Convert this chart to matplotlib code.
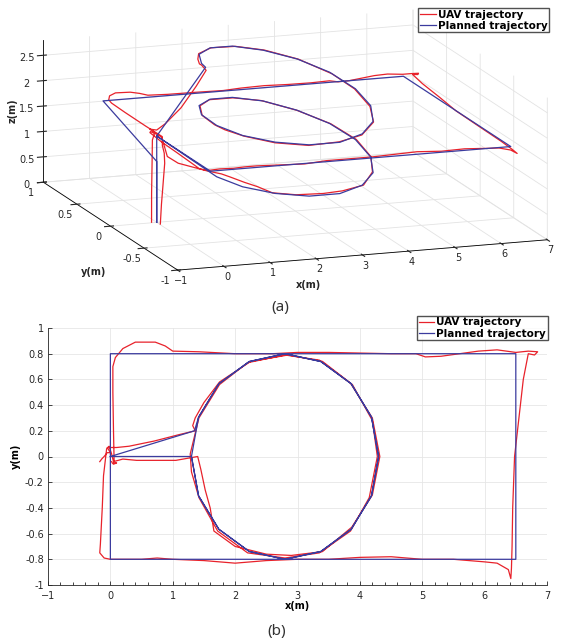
import numpy as np
import matplotlib.pyplot as plt

# ---- planned trajectory (waypoints, x/y/z in m) ----
plan_x = [0, 0, 0, 6.5, 6.5, 0, 0,
          1.300, 1.414, 1.739, 2.226, 2.800, 3.374, 3.861, 4.186,
          4.300, 4.186, 3.861, 3.374, 2.800, 2.226, 1.739, 1.414,
          1.300, 1.414, 1.739, 2.226, 2.800, 3.374, 3.861, 4.186,
          4.300, 4.186, 3.861, 3.374, 2.800, 2.226, 1.739, 1.414,
          1.348, 0, 0]
plan_y = [0, 0, 0.8, 0.8, -0.8, -0.8, 0,
          0.000, -0.306, -0.566, -0.739, -0.800, -0.739, -0.566, -0.306,
          0.000, 0.306, 0.566, 0.739, 0.800, 0.739, 0.566, 0.306,
          0.000, -0.306, -0.566, -0.739, -0.800, -0.739, -0.566, -0.306,
          0.000, 0.306, 0.566, 0.739, 0.800, 0.739, 0.566, 0.306,
          0.200, 0, 0]
plan_z = [0, 1.2, 1.7, 1.7, 1.7, 1.7, 1.7,
          0.80, 0.86, 0.93, 0.99, 1.05, 1.12, 1.18, 1.24,
          1.31, 1.37, 1.43, 1.50, 1.56, 1.62, 1.68, 1.75,
          1.81, 1.87, 1.94, 2.00, 2.06, 2.13, 2.19, 2.25,
          2.31, 2.38, 2.44, 2.50, 2.57, 2.63, 2.69, 2.76,
          2.78, 1.7, 0]

# ---- measured UAV trajectory, by flight phase (x, y, z) ----
takeoff = [(0.02, -0.04, 0.0), (0.03, -0.05, 0.4), (0.05, -0.06, 0.8),
           (0.10, -0.05, 1.2), (0.09, -0.05, 1.4), (0.05, -0.05, 1.55),
           (0.06, -0.04, 1.72)]
rectangle = [(0.05, 0.2, 1.72), (0.04, 0.5, 1.73), (0.04, 0.70, 1.74),
             (0.08, 0.77, 1.74), (0.2, 0.84, 1.75), (0.4, 0.89, 1.75),
             (0.72, 0.89, 1.74), (0.88, 0.86, 1.73), (1.0, 0.82, 1.72),
             (1.42, 0.815, 1.71), (2.0, 0.80, 1.72), (2.6, 0.80, 1.71),
             (3.0, 0.81, 1.72), (3.5, 0.81, 1.73), (4.0, 0.805, 1.72),
             (4.5, 0.80, 1.72), (4.9, 0.80, 1.73), (5.05, 0.775, 1.72),
             (5.3, 0.78, 1.72), (5.6, 0.80, 1.73), (5.9, 0.82, 1.74),
             (6.2, 0.83, 1.74), (6.5, 0.81, 1.73), (6.7, 0.82, 1.72),
             (6.85, 0.815, 1.72), (6.8, 0.79, 1.72), (6.7, 0.80, 1.72),
             (6.62, 0.6, 1.72), (6.55, 0.3, 1.72), (6.48, 0.0, 1.71),
             (6.45, -0.4, 1.72), (6.44, -0.7, 1.72), (6.43, -0.87, 1.71),
             (6.42, -0.95, 1.70), (6.38, -0.88, 1.71), (6.2, -0.83, 1.72),
             (6.0, -0.82, 1.72), (5.5, -0.80, 1.73), (5.0, -0.80, 1.72),
             (4.5, -0.78, 1.73), (4.0, -0.785, 1.72), (3.5, -0.80, 1.72),
             (3.0, -0.80, 1.72), (2.5, -0.81, 1.73), (2.0, -0.83, 1.72),
             (1.5, -0.81, 1.72), (1.0, -0.80, 1.73), (0.75, -0.79, 1.72),
             (0.5, -0.80, 1.72), (0.2, -0.80, 1.73), (0.0, -0.80, 1.72),
             (-0.1, -0.79, 1.72), (-0.17, -0.75, 1.72), (-0.16, -0.68, 1.72),
             (-0.13, -0.4, 1.72), (-0.11, -0.15, 1.72), (-0.06, 0.06, 1.72),
             (-0.02, 0.08, 1.72), (0.02, 0.02, 1.72), (0.05, -0.04, 1.71)]
entry = [(0.2, -0.02, 1.3), (0.42, -0.03, 1.16), (1.05, -0.03, 0.96),
         (1.4, 0.0, 0.85)]
spiral = [(1.45, -0.1, 0.87), (1.52, -0.26, 0.90), (1.6, -0.4, 0.93),
          (1.66, -0.58, 0.96), (2.0, -0.70, 1.0), (2.5, -0.76, 1.04),
          (2.9, -0.77, 1.07), (3.4, -0.74, 1.12), (3.87, -0.55, 1.18),
          (4.2, -0.3, 1.24), (4.32, 0.0, 1.31), (4.2, 0.3, 1.37),
          (3.85, 0.57, 1.43), (3.35, 0.75, 1.50), (2.8, 0.79, 1.56),
          (2.2, 0.73, 1.62), (1.75, 0.56, 1.68), (1.42, 0.3, 1.74),
          (1.28, 0.02, 1.81), (1.30, -0.12, 1.83), (1.42, -0.32, 1.87),
          (1.72, -0.58, 1.94), (2.2, -0.75, 2.0), (2.8, -0.79, 2.06),
          (3.35, -0.75, 2.12), (3.85, -0.58, 2.19), (4.15, -0.32, 2.25),
          (4.28, 0.0, 2.31), (4.2, 0.28, 2.37), (3.88, 0.56, 2.44),
          (3.4, 0.74, 2.5), (2.85, 0.79, 2.57), (2.25, 0.74, 2.63),
          (1.75, 0.58, 2.69), (1.5, 0.42, 2.74), (1.36, 0.3, 2.76),
          (1.32, 0.24, 2.79)]
back = [(1.36, 0.2, 2.72), (1.1, 0.17, 2.45), (0.7, 0.12, 2.1),
        (0.3, 0.08, 1.85), (0.1, 0.07, 1.75), (-0.05, 0.07, 1.78)]
landing = [(0.0, 0.03, 1.74), (-0.05, 0.03, 1.6), (-0.1, 0.0, 1.2),
           (-0.14, -0.02, 0.6), (-0.17, -0.04, 0.05)]

uav = np.array(takeoff + rectangle + entry + spiral + back + landing)
ux, uy, uz = uav[:, 0], uav[:, 1], uav[:, 2]

RED = '#e8222b'
BLUE = '#3b3b9e'
AXC = '#262626'

plt.rcParams['font.family'] = 'DejaVu Sans'
plt.rcParams['font.size'] = 7

fig = plt.figure(figsize=(5.61, 6.44), dpi=100)

# ---------- (a) 3D view ----------
ax3 = fig.add_axes([-0.0013, 0.526, 1.04, 0.5], projection='3d', proj_type='ortho')
ax3.patch.set_alpha(0)
ax3.plot(ux, uy, uz, color=RED, lw=0.9, label='UAV trajectory', clip_on=False)
ax3.plot(plan_x, plan_y, plan_z, color=BLUE, lw=0.9,
         label='Planned trajectory', clip_on=False)
ax3.set_xlim(-1, 7)
ax3.set_ylim(-1, 1)
ax3.set_zlim(0, 2.8)
ax3.set_xticks(range(-1, 8))
ax3.set_yticks([-1, -0.5, 0, 0.5, 1])
ax3.set_yticklabels(['-1', '-0.5', '0', '0.5', '1'])
ax3.set_zticks([0, 0.5, 1, 1.5, 2, 2.5])
ax3.set_zticklabels(['0', '0.5', '1', '1.5', '2', '2.5'])
ax3.view_init(elev=13.4, azim=-109.5)
ax3.set_box_aspect((389, 399, 145), zoom=1.75)
for axis in (ax3.xaxis, ax3.yaxis, ax3.zaxis):
    axis.set_pane_color((1, 1, 1, 0))
    axis.pane.set_edgecolor('#e6e6e6')
    axis._axinfo['grid']['color'] = '#e3e3e3'
    axis._axinfo['grid']['linewidth'] = 0.6
    axis._axinfo['axisline']['color'] = AXC
    axis._axinfo['tick']['color'] = AXC
    axis.line.set_linewidth(0.6)
ax3.tick_params(labelsize=7, colors=AXC)
ax3.xaxis.set_tick_params(pad=-5)
ax3.yaxis.set_tick_params(pad=-4)
ax3.zaxis.set_tick_params(pad=-4)
fig.text(308 / 561, 1 - 285 / 644, 'x(m)', ha='center', va='center',
         fontweight='bold', color=AXC)
fig.text(94 / 561, 1 - 272 / 644, 'y(m)', ha='center', va='center',
         fontweight='bold', color=AXC)
fig.text(13 / 561, 1 - 111 / 644, 'z(m)', ha='center', va='center',
         fontweight='bold', color=AXC, rotation=90)
fig.legend(*ax3.get_legend_handles_labels(), loc='upper right',
           bbox_to_anchor=(549 / 561, 1 - 8 / 644),
           prop={'weight': 'bold', 'size': 7.5}, frameon=True, fancybox=False,
           edgecolor=AXC, borderpad=0.15, labelspacing=0.1,
           handlelength=1.5, handletextpad=0.2, borderaxespad=0)

# ---------- (b) top view ----------
ax2 = fig.add_axes([48 / 561, 59 / 644, 499 / 561, 257 / 644])
ax2.plot(ux, uy, color=RED, lw=0.9, label='UAV trajectory')
ax2.plot(plan_x, plan_y, color=BLUE, lw=0.9, label='Planned trajectory')
ax2.set_xlim(-1, 7)
ax2.set_ylim(-1, 1)
ax2.set_xticks(range(-1, 8))
ax2.set_xticks(np.arange(-1, 7.01, 0.2), minor=True)
ax2.set_yticks(np.round(np.arange(-1, 1.01, 0.2), 1))
ax2.set_yticklabels(['-1', '-0.8', '-0.6', '-0.4', '-0.2', '0', '0.2',
                     '0.4', '0.6', '0.8', '1'])
ax2.grid(True, color='#e6e6e6', lw=0.6)
ax2.set_axisbelow(True)
for s in ('top', 'right'):
    ax2.spines[s].set_visible(False)
for s in ('left', 'bottom'):
    ax2.spines[s].set_color(AXC)
    ax2.spines[s].set_linewidth(0.6)
ax2.tick_params(which='both', direction='in', colors=AXC, labelsize=7,
                width=0.6)
ax2.tick_params(axis='x', pad=4)
ax2.tick_params(axis='y', pad=3)
ax2.tick_params(which='major', length=3)
ax2.tick_params(which='minor', length=2)
ax2.set_xlabel('x(m)', fontweight='bold', labelpad=0)
ax2.set_ylabel('y(m)', fontweight='bold', labelpad=3)
ax2.legend(loc='upper right', bbox_to_anchor=(1.0015, 1.047),
           prop={'weight': 'bold', 'size': 7.5}, frameon=True, fancybox=False,
           edgecolor=AXC, borderpad=0.15, labelspacing=0.1,
           handlelength=1.5, handletextpad=0.2, borderaxespad=0)

fig.text(280 / 561, 1 - 308 / 644, '(a)', ha='center', va='center',
         fontsize=11, family='Noto Sans', color='#333333')
fig.text(277 / 561, 1 - 632 / 644, '(b)', ha='center', va='center',
         fontsize=11, family='Noto Sans', color='#333333')

fig.savefig('out.png', dpi=100)
